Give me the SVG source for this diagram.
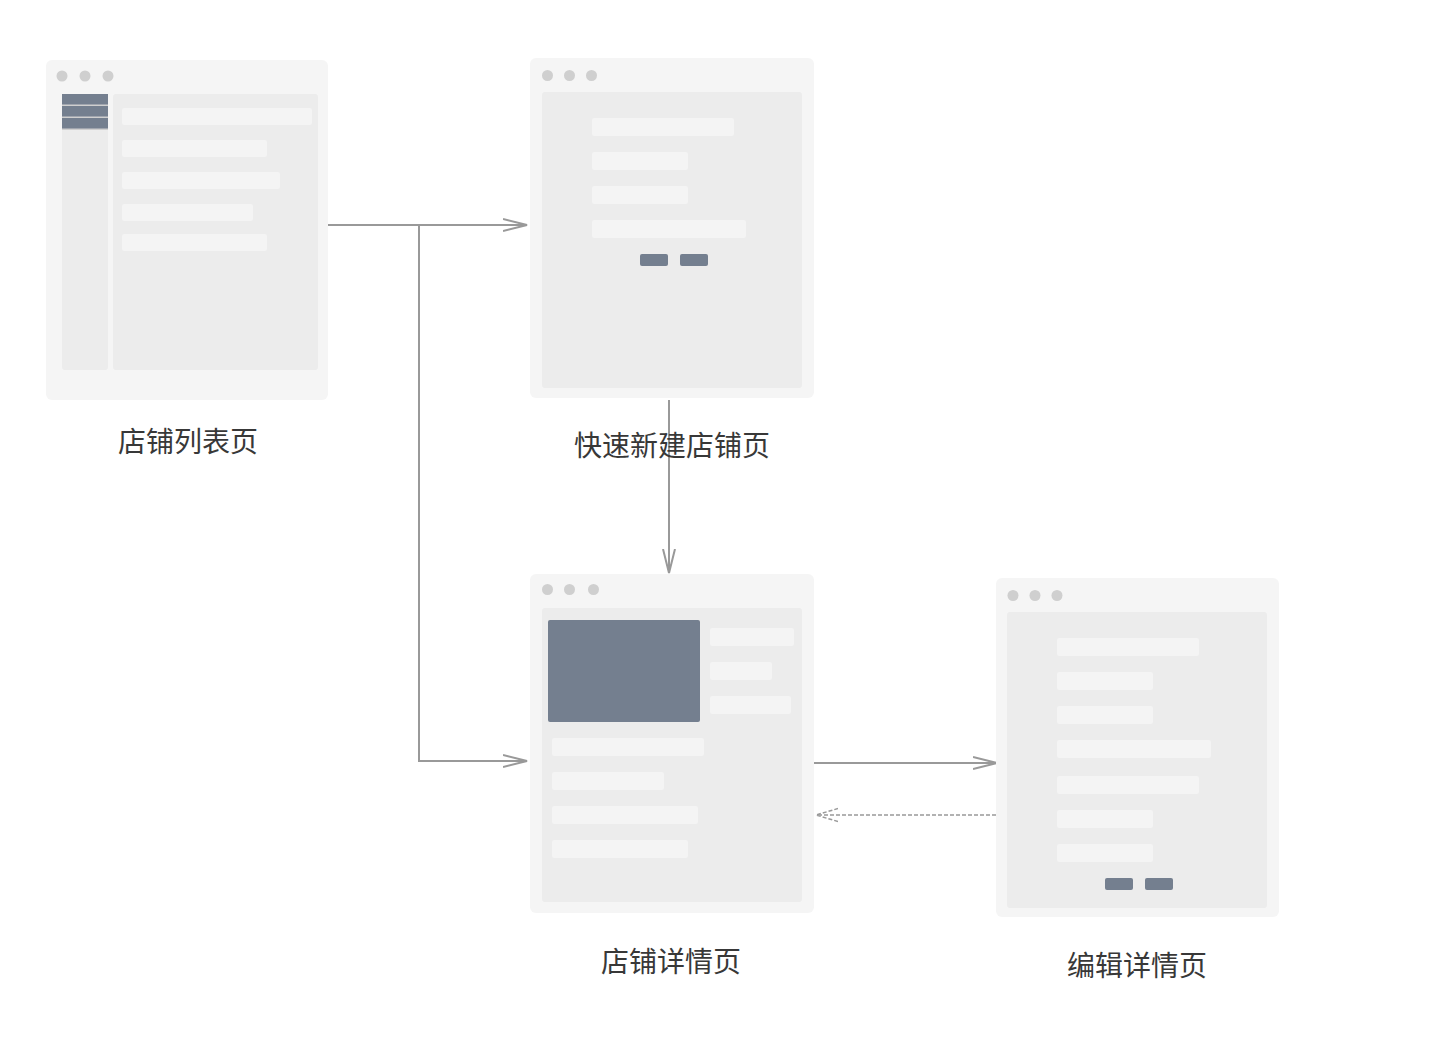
<svg xmlns="http://www.w3.org/2000/svg" width="1434" height="1050" viewBox="0 0 1434 1050">
<style>
.frame{fill:#f5f5f5}
.inner{fill:#ececec}
.bar{fill:#f4f4f4}
.dot{fill:#cfcfcf}
.dark{fill:#747f8f}
.conn{fill:none;stroke:#999999;stroke-width:2}
.dash{stroke-dasharray:4 2;stroke-width:1.5}
.label{font-family:"Noto Sans CJK SC","Noto Sans",sans-serif;font-size:28px;fill:#383838;text-anchor:middle}
</style>
<defs>
<marker id="arr" markerUnits="userSpaceOnUse" markerWidth="26" markerHeight="14" refX="24" refY="7" orient="auto">
<path d="M0,1 L24,7 L0,13" fill="none" stroke="#999999" stroke-width="2"/>
</marker>
<marker id="arrd" markerUnits="userSpaceOnUse" markerWidth="24" markerHeight="16" refX="22" refY="8" orient="auto">
<path d="M0,1.5 L22,8 L0,14.5" fill="none" stroke="#999999" stroke-width="1.5" stroke-dasharray="4 2"/>
</marker>
</defs>
<rect width="1434" height="1050" fill="#ffffff"/>

<g id="connectors">
<path class="conn" d="M326,225 H527" marker-end="url(#arr)"/>
<path class="conn" d="M419,225 V761 H527" marker-end="url(#arr)"/>
<path class="conn" d="M669,400 V573" marker-end="url(#arr)"/>
<path class="conn" d="M814,763 H997" marker-end="url(#arr)"/>
<path class="conn dash" d="M996,815 H816" marker-end="url(#arrd)"/>
</g>

<g id="node-list">
<rect class="frame" x="46" y="60" width="282" height="340" rx="6"/>
<circle class="dot" cx="62" cy="76" r="5.5"/>
<circle class="dot" cx="85" cy="76" r="5.5"/>
<circle class="dot" cx="108" cy="76" r="5.5"/>
<rect class="inner" x="62" y="94" width="46" height="276" rx="3"/>
<rect x="62" y="94" width="46" height="36" fill="#cfcfcf"/>
<rect class="dark" x="62" y="94" width="46" height="10.5"/>
<rect class="dark" x="62" y="106" width="46" height="10.5"/>
<rect class="dark" x="62" y="118" width="46" height="10.5"/>
<rect class="inner" x="113" y="94" width="205" height="276" rx="3"/>
<rect class="bar" x="122" y="108" width="190" height="17" rx="2"/>
<rect class="bar" x="122" y="140" width="145" height="17" rx="2"/>
<rect class="bar" x="122" y="172" width="158" height="17" rx="2"/>
<rect class="bar" x="122" y="204" width="131" height="17" rx="2"/>
<rect class="bar" x="122" y="234" width="145" height="17" rx="2"/>
<text class="label" x="188" y="452">店铺列表页</text>
</g>

<g id="node-create">
<rect class="frame" x="530" y="58" width="284" height="340" rx="6"/>
<circle class="dot" cx="547.5" cy="75.5" r="5.5"/>
<circle class="dot" cx="569.5" cy="75.5" r="5.5"/>
<circle class="dot" cx="591.5" cy="75.5" r="5.5"/>
<rect class="inner" x="542" y="92" width="260" height="296" rx="3"/>
<rect class="bar" x="592" y="118" width="142" height="18" rx="2"/>
<rect class="bar" x="592" y="152" width="96" height="18" rx="2"/>
<rect class="bar" x="592" y="186" width="96" height="18" rx="2"/>
<rect class="bar" x="592" y="220" width="154" height="18" rx="2"/>
<rect class="dark" x="640" y="254" width="28" height="12" rx="2"/>
<rect class="dark" x="680" y="254" width="28" height="12" rx="2"/>
<text class="label" x="672" y="456">快速新建店铺页</text>
</g>

<g id="node-detail">
<rect class="frame" x="530" y="574" width="284" height="339" rx="6"/>
<circle class="dot" cx="547.5" cy="589.5" r="5.5"/>
<circle class="dot" cx="569.5" cy="589.5" r="5.5"/>
<circle class="dot" cx="593.5" cy="589.5" r="5.5"/>
<rect class="inner" x="542" y="608" width="260" height="294" rx="3"/>
<rect class="dark" x="548" y="620" width="152" height="102" rx="2"/>
<rect class="bar" x="710" y="628" width="84" height="18" rx="2"/>
<rect class="bar" x="710" y="662" width="62" height="18" rx="2"/>
<rect class="bar" x="710" y="696" width="81" height="18" rx="2"/>
<rect class="bar" x="552" y="738" width="152" height="18" rx="2"/>
<rect class="bar" x="552" y="772" width="112" height="18" rx="2"/>
<rect class="bar" x="552" y="806" width="146" height="18" rx="2"/>
<rect class="bar" x="552" y="840" width="136" height="18" rx="2"/>
<text class="label" x="671" y="972">店铺详情页</text>
</g>

<g id="node-edit">
<rect class="frame" x="996" y="578" width="283" height="339" rx="6"/>
<circle class="dot" cx="1013" cy="595.5" r="5.5"/>
<circle class="dot" cx="1035" cy="595.5" r="5.5"/>
<circle class="dot" cx="1057" cy="595.5" r="5.5"/>
<rect class="inner" x="1007" y="612" width="260" height="296" rx="3"/>
<rect class="bar" x="1057" y="638" width="142" height="18" rx="2"/>
<rect class="bar" x="1057" y="672" width="96" height="18" rx="2"/>
<rect class="bar" x="1057" y="706" width="96" height="18" rx="2"/>
<rect class="bar" x="1057" y="740" width="154" height="18" rx="2"/>
<rect class="bar" x="1057" y="776" width="142" height="18" rx="2"/>
<rect class="bar" x="1057" y="810" width="96" height="18" rx="2"/>
<rect class="bar" x="1057" y="844" width="96" height="18" rx="2"/>
<rect class="dark" x="1105" y="878" width="28" height="12" rx="2"/>
<rect class="dark" x="1145" y="878" width="28" height="12" rx="2"/>
<text class="label" x="1137" y="976">编辑详情页</text>
</g>
</svg>
